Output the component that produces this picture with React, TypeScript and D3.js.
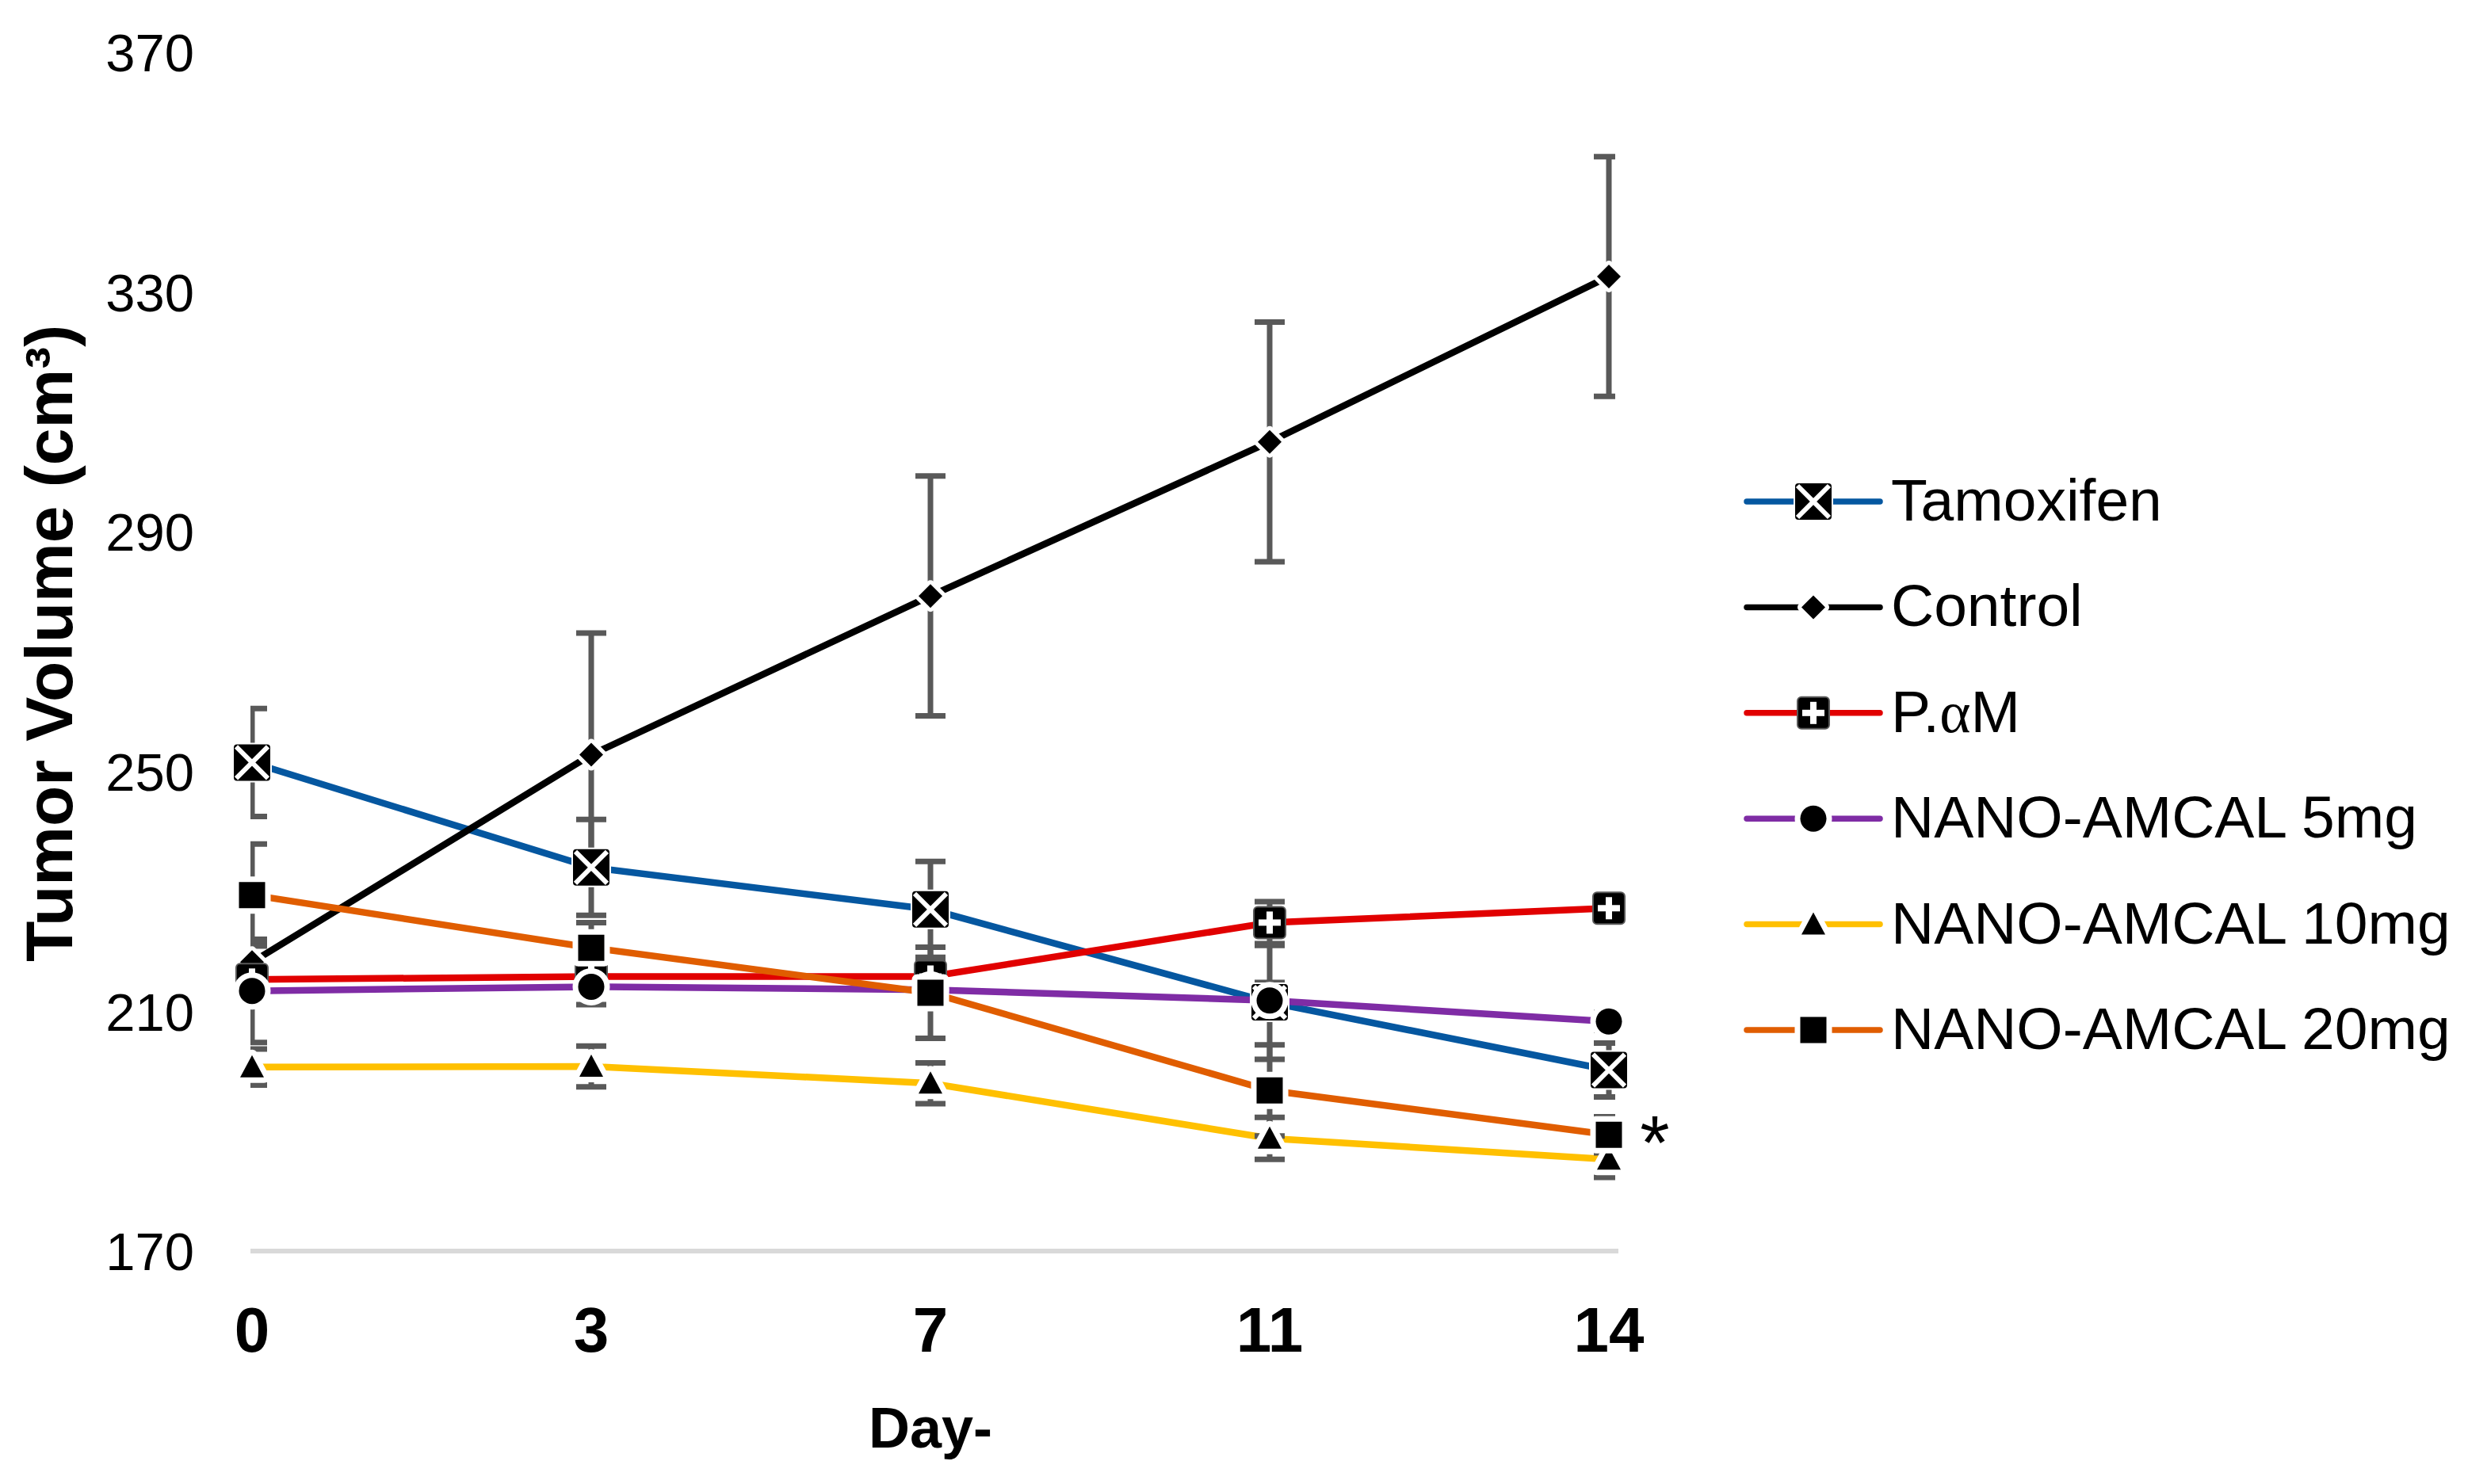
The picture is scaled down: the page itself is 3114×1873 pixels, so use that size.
import * as d3 from 'd3';

// data
const days = ['0', '3', '7', '11', '14'];
const yTicks = [170, 210, 250, 290, 330, 370];

const tamoxifen = [251.5, 234, 227, 211.5, 200.2];
const tamoxifenErr = [9, 8, 8, 9.5, 4.5];
const control = [218.2, 252.8, 279.3, 305, 332.6];
const controlErr = [3, 20.3, 20, 20, 20];
const pam = [215.3, 215.8, 215.8, 224.8, 227.2];
const pamErr = [2, 2, 3, 3.5, 1.5];
const nano5 = [213.4, 214.1, 213.6, 211.8, 208.3];
const nano5Err = [8.6, 3, 3, 3, 1.5];
const nano10 = [200.7, 200.8, 198, 188.8, 185.3];
const nano10Err = [3, 3.4, 3.4, 3.5, 3];
const nano20 = [229.4, 220.6, 213.1, 196.8, 189.4];
const nano20Err = [8.5, 4.2, 7.6, 7.6, 3];

type MarkerKind = 'xbox' | 'diamond' | 'plusbox' | 'circle' | 'triangle' | 'square';

const series: { name: string; color: string; marker: MarkerKind; values: number[]; err: number[] }[] = [
  { name: 'Tamoxifen', color: '#0557a0', marker: 'xbox', values: tamoxifen, err: tamoxifenErr },
  { name: 'Control', color: '#000000', marker: 'diamond', values: control, err: controlErr },
  { name: 'P.αM', color: '#e10000', marker: 'plusbox', values: pam, err: pamErr },
  { name: 'NANO-AMCAL 5mg', color: '#7f2ca5', marker: 'circle', values: nano5, err: nano5Err },
  { name: 'NANO-AMCAL 10mg', color: '#ffc000', marker: 'triangle', values: nano10, err: nano10Err },
  { name: 'NANO-AMCAL 20mg', color: '#e05d00', marker: 'square', values: nano20, err: nano20Err },
];

const W = 3114;
const H = 1873;
const FONT = '"Liberation Sans", Arial, sans-serif';

const Marker = ({ kind, cx, cy }: { kind: MarkerKind; cx: number; cy: number }) => {
  const t = `translate(${cx},${cy})`;
  if (kind === 'xbox') {
    return (
      <g transform={t}>
        <rect x={-24} y={-24} width={48} height={48} rx={5} fill="#000" stroke="#fff" strokeWidth={2} />
        <path d="M-20,-20L20,20M-20,20L20,-20" stroke="#fff" strokeWidth={6} />
      </g>
    );
  }
  if (kind === 'plusbox') {
    return (
      <g transform={t}>
        <rect x={-20} y={-20} width={40} height={40} rx={5} fill="#000" stroke="#595959" strokeWidth={2} />
        <rect x={-14} y={-4} width={28} height={8} fill="#fff" />
        <rect x={-4} y={-14} width={8} height={28} fill="#fff" />
      </g>
    );
  }
  let d = '';
  let ring = 14;
  if (kind === 'diamond') {
    d = 'M0,-15L15,0L0,15L-15,0Z';
    ring = 10;
  } else if (kind === 'circle') {
    d = d3.arc()({ innerRadius: 0, outerRadius: 16.5, startAngle: 0, endAngle: 2 * Math.PI }) || '';
  } else if (kind === 'triangle') {
    d = 'M0,-15L15,13L-15,13Z';
  } else {
    d = 'M-16.5,-16.5H16.5V16.5H-16.5Z';
  }
  return (
    <g transform={t}>
      <path d={d} fill="#fff" stroke="#fff" strokeWidth={ring} strokeLinejoin="round" />
      <path d={d} fill="#000" />
    </g>
  );
};

const App = () => {
  const x = d3.scalePoint<string>().domain(days).range([318, 2030]);
  const y = d3.scaleLinear().domain([170, 370]).range([1579, 66]);

  const line = d3.line<number>()
    .x((_, i) => x(days[i]) || 0)
    .y(d => y(d));

  // plot area edges (error bar caps are clipped there)
  const plotLeft = 316;
  const plotRight = 2038;

  const legendX = 2204;
  const legendY0 = 633;
  const legendGap = 133.4;

  const last20 = nano20[nano20.length - 1];

  return (
    <svg width={W} height={H} style={{ position: 'absolute', left: 0, top: 0, background: '#fff' }}>
      <defs>
        <clipPath id="plot-clip">
          <rect x={plotLeft} y={0} width={plotRight - plotLeft} height={y(170) + 20} />
        </clipPath>
      </defs>
      <rect width={W} height={H} fill="#fff" />
      {/* bottom gridline / axis */}
      <line x1={plotLeft} x2={plotRight + 4} y1={y(170)} y2={y(170)} stroke="#d9d9d9" strokeWidth={6} />

      {/* y tick labels */}
      {yTicks.map(t => (
        <text key={t} x={245} y={y(t)} dy="0.36em" textAnchor="end" fontFamily={FONT} fontSize={67} fill="#000">
          {t}
        </text>
      ))}
      {/* x tick labels */}
      {days.map(dd => (
        <text key={dd} x={x(dd)} y={1706} textAnchor="middle" fontFamily={FONT} fontWeight="bold" fontSize={80} fill="#000">
          {dd}
        </text>
      ))}

      {/* axis titles */}
      <text transform="translate(91,812) rotate(-90)" textAnchor="middle" fontFamily={FONT} fontWeight="bold" fontSize={84} fill="#000">
        Tumor Volume (cm³)
      </text>
      <text x={x('7')} y={1827} textAnchor="middle" fontFamily={FONT} fontWeight="bold" fontSize={72} fill="#000">
        Day-
      </text>

      {/* lines */}
      {series.map(s => (
        <path key={s.name} d={line(s.values) || ''} fill="none" stroke={s.color} strokeWidth={8.5} />
      ))}

      {/* error bars */}
      <g clipPath="url(#plot-clip)">
        {series.map(s => (
          <g key={s.name} stroke="#595959" strokeWidth={7}>
            {s.values.map((v, i) => {
              const cx = x(days[i]) || 0;
              const top = y(v + s.err[i]);
              const bot = y(v - s.err[i]);
              return (
                <g key={i}>
                  <line x1={cx} x2={cx} y1={top} y2={bot} />
                  <line x1={cx - 19} x2={cx + 19} y1={top} y2={top} />
                  <line x1={cx - 19} x2={cx + 19} y1={bot} y2={bot} />
                </g>
              );
            })}
          </g>
        ))}
      </g>

      {/* markers */}
      {series.map(s => (
        <g key={s.name}>
          {s.values.map((v, i) => (
            <Marker key={i} kind={s.marker} cx={x(days[i]) || 0} cy={y(v)} />
          ))}
        </g>
      ))}

      {/* significance mark */}
      <text x={(x('14') || 0) + 58} y={y(last20) + 43} textAnchor="middle" fontFamily={FONT} fontSize={96} fill="#000">
        *
      </text>

      {/* legend */}
      {series.map((s, i) => {
        const ly = legendY0 + i * legendGap;
        return (
          <g key={s.name}>
            <line x1={legendX} x2={legendX + 168} y1={ly} y2={ly} stroke={s.color} strokeWidth={7.5} strokeLinecap="round" />
            <Marker kind={s.marker} cx={legendX + 84} cy={ly} />
            <text x={legendX + 182} y={ly + 24} fontFamily={FONT} fontSize={75} fill="#000">
              {s.name === 'P.αM' ? (
                <>
                  P.<tspan fontFamily='"Liberation Serif", serif'>α</tspan>M
                </>
              ) : s.name}
            </text>
          </g>
        );
      })}
    </svg>
  );
};

export default App;
